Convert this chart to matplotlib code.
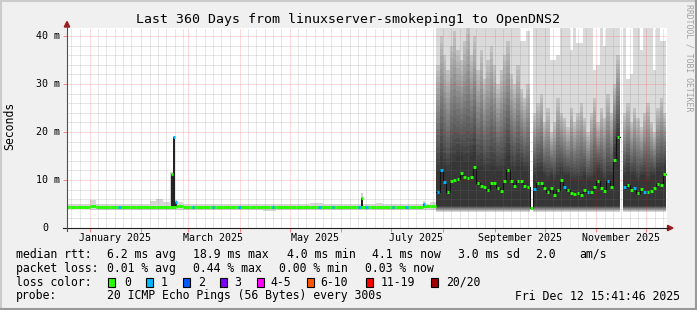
import numpy as np
import matplotlib
matplotlib.use('Agg')
import matplotlib.pyplot as plt
import matplotlib.dates as mdates
import pandas as pd
from matplotlib.patches import Polygon, Rectangle
from matplotlib.lines import Line2D
from matplotlib.colors import to_rgb

W, H = 697, 310
FONT = 'DejaVu Sans Mono'

title = "Last 360 Days from linuxserver-smokeping1 to OpenDNS2"
ylabel = "Seconds"
credit = "RRDTOOL / TOBI OETIKER"

x_start = '2024-12-18 09:00'
x_end = '2025-12-13 09:00'
y_max = 41.67  # ms

y_tick_values = [0, 10, 20, 30, 40]
y_tick_labels = ['0', '10 m', '20 m', '30 m', '40 m']
x_label_dates = ['2025-01-16', '2025-03-16', '2025-05-16', '2025-07-16', '2025-09-16', '2025-11-16']
x_label_texts = ['January 2025', 'March 2025', 'May 2025', 'July 2025', 'September 2025', 'November 2025']

loss_labels = ['0', '1', '2', '3', '4-5', '6-10', '11-19', '20/20']
loss_colors = ['#26ff00', '#00b8ff', '#0059ff', '#7e00ff', '#ff00ff', '#ff5500', '#ff0000', '#a10000']

# ---- quiet period (4-day bins) ----
pre_start = '2024-12-16'
pre_bin_days = 4
pre_median = [4.4, 4.4, 4.4, 4.4, 4.5, 4.4, 4.4, 4.4,
              4.4, 4.4, 4.4, 4.4, 4.4, 4.4, 4.4, 4.4,
              4.4, 4.5, 4.4, 4.4, 4.4, 4.4, 4.4, 4.4,
              4.3, 4.4, 4.4, 4.4, 4.4, 4.4, 4.4, 4.4,
              4.4, 4.4, 4.3, 4.4, 4.4, 4.4, 4.4, 4.4,
              4.4, 4.4, 4.4, 4.4, 4.4, 4.4, 4.4, 4.4,
              4.4, 4.4, 4.4, 4.4, 4.4, 4.4, 4.5, 4.5]
pre_loss = [0, 0, 0, 0, 0, 0, 0, 0,
            1, 0, 0, 0, 0, 0, 0, 0,
            0, 0, 0, 1, 0, 0, 1, 0,
            0, 0, 1, 0, 0, 0, 0, 1,
            0, 0, 0, 0, 0, 0, 1, 0,
            1, 0, 0, 0, 1, 1, 0, 0,
            0, 1, 0, 1, 0, 0, 0, 0]
pre_smoke_lo = [3.9, 3.9, 3.9, 3.9, 3.8, 3.8, 3.8, 3.8,
                3.8, 3.8, 3.8, 3.8, 3.8, 3.8, 3.8, 3.8,
                3.8, 3.8, 3.8, 3.8, 3.8, 3.8, 3.8, 3.8,
                3.8, 3.8, 3.8, 3.8, 3.8, 3.8, 3.6, 3.6,
                3.8, 3.8, 3.8, 3.8, 3.8, 3.8, 3.8, 3.8,
                3.8, 3.8, 3.8, 3.8, 3.8, 3.8, 3.8, 3.8,
                3.8, 3.8, 3.8, 3.8, 3.8, 3.8, 3.8, 3.8]
pre_smoke_hi = [5.0, 4.9, 5.0, 5.1, 5.8, 5.0, 4.9, 5.0,
                5.0, 5.1, 4.9, 5.0, 5.0, 5.6, 6.0, 5.5,
                5.0, 5.5, 5.0, 5.0, 4.9, 5.0, 5.0, 5.1,
                5.0, 4.9, 5.0, 5.0, 5.0, 5.0, 5.0, 4.9,
                5.0, 5.0, 5.0, 5.0, 5.0, 5.2, 5.2, 5.0,
                5.0, 5.0, 5.0, 5.0, 5.0, 5.0, 5.0, 5.3,
                5.0, 5.0, 5.0, 5.0, 5.0, 5.0, 5.1, 5.5]

# ---- isolated spikes ----
spike_times = ['2025-02-19 05:00', '2025-02-20 15:00', '2025-02-21 17:00', '2025-06-13 07:00', '2025-07-20 12:00']
spike_values = [11.3, 18.9, 5.5, 6.3, 5.1]
spike_loss = [0, 1, 1, 0, 1]
spike_smoke = [11.6, 19.2, 5.8, 7.2, 5.6]

# ---- noisy period (2-day bins) ----
smoke_start = '2025-07-28'
smoke_bin_days = 2
nan = float('nan')
smoke_median = [7.6, 12.1, 9.5, 7.4, 9.8, 10.0, 10.3, 11.5, 10.6, 10.4,
                10.7, 12.8, 9.3, 8.8, 8.6, 8.0, 9.3, 9.3, 8.3, 7.8,
                9.7, 12.1, 9.7, 8.8, 9.8, 9.7, 8.8, 8.6, 4.1, 8.1,
                9.3, 9.3, 8.4, 7.4, 8.3, 6.9, 7.9, 10.0, 8.5, 7.9,
                7.2, 7.1, 7.2, 6.8, 7.9, 7.5, 7.6, 8.6, 9.7, 8.3,
                7.8, 9.7, 8.6, 14.2, 18.9, nan, 8.6, 9.0, 7.9, 8.3,
                7.2, 8.2, 7.4, 7.6, 7.8, 8.3, 9.2, 9.0, 11.2]
smoke_loss = [1, 1, 1, 0, 0, 0, 0, 0, 0, 0,
              0, 0, 0, 0, 0, 0, 0, 0, 0, 0,
              0, 0, 0, 0, 0, 0, 0, 0, 0, 1,
              0, 0, 0, 0, 0, 0, 0, 0, 1, 0,
              0, 0, 0, 0, 0, 1, 0, 0, 0, 0,
              0, 1, 0, 0, 0, 0, 1, 0, 0, 1,
              0, 0, 1, 0, 0, 0, 0, 0, 0]
smoke_dark_top = [12, 15, 13, 12, 14, 14, 15, 15, 14, 14,
                  15, 16, 13, 13, 12, 12, 13, 13, 12, 12,
                  13, 15, 13, 12, 13, 13, 12, 12, nan, 11,
                  12, 12, 11, 10, 11, 10, 11, 12, 11, 11,
                  10, 10, 10, 10, 11, 10, 10, 11, 12, 11,
                  10, 11, 11, 16, 19, nan, 11, 12, 11, 11,
                  10, 11, 11, 10, 11, 11, 12, 12, 13]
smoke_mid_top = [34, 40, 36, 33, 38, 41, 37, 35, 39, 42,
                 36, 40, 33, 37, 31, 35, 38, 34, 30, 33,
                 36, 39, 32, 30, 34, 29, 27, 30, nan, 24,
                 26, 28, 22, 25, 20, 22, 27, 24, 23, 21,
                 25, 22, 24, 26, 23, 20, 24, 27, 22, 25,
                 23, 28, 24, 30, 36, nan, 24, 26, 22, 25,
                 23, 21, 24, 26, 22, 20, 25, 27, 24]
smoke_light_top = [42, 42, 42, 42, 42, 42, 42, 42, 42, 42,
                   42, 42, 42, 42, 42, 42, 42, 42, 42, 42,
                   42, 42, 42, 42, 42, 39, 39, 41, nan, 42,
                   42, 42, 42, 42, 35, 35, 36, 42, 42, 42,
                   37, 42, 38.5, 38.5, 42, 42, 42, 33, 34, 42,
                   38, 42, 42, 42, 42, nan, 42, 31, 32, 42,
                   42, 37, 42, 42, 42, 33, 42, 39, 39]
smoke_floor = 3.3
smoke_base = 4.6

# ---- legend text ----
legend_rows = [
    [(16, 'median rtt:'), (107.3, '6.2 ms avg'), (193.3, '18.9 ms max'), (286.7, '4.0 ms min'),
     (372.3, '4.1 ms now'), (458.3, '3.0 ms sd'), (535, '2.0'), (579.3, 'am/s')],
    [(16, 'packet loss:'), (107.3, '0.01 % avg'), (193.3, '0.44 % max'), (279.3, '0.00 % min'),
     (365, '0.03 % now')],
    [(16, 'loss color:')],
    [(16, 'probe:'), (107.3, '20 ICMP Echo Pings (56 Bytes) every 300s')],
]
legend_row_y = [254.3, 268.3, 282.3, 296.0]
loss_box_x = [108.3, 145.7, 182.7, 219.7, 256.7, 307.0, 365.7, 430.7]
loss_text_x = [124.0, 160.7, 197.7, 234.3, 270.7, 320.7, 380.7, 445.7]
timestamp = 'Fri Dec 12 15:41:46 2025'

# ------------------------------------------------------------------
def fx(px):
    return px / W


def fy(py):
    return 1 - py / H


def dnum(s):
    return mdates.date2num(pd.Timestamp(s).to_pydatetime())


fig = plt.figure(figsize=(W / 100, H / 100), dpi=100, facecolor='#f0f0f0')
ax = fig.add_axes([fx(67), fy(228), 600 / W, 200 / H], facecolor='white')
x0, x1 = dnum(x_start), dnum(x_end)
ax.set_xlim(x0, x1)
ax.set_ylim(0, y_max)
for s in ax.spines.values():
    s.set_visible(False)


def grad_bars(x, w, lo, hi, c_lo, c_hi, n, z=1):
    c_lo = np.array(to_rgb(c_lo))
    c_hi = np.array(to_rgb(c_hi))
    for j in range(n):
        t = (j + 0.5) / n
        col = c_lo * (1 - t) + c_hi * t
        b = lo + (hi - lo) * j / n
        h = (hi - lo) / n
        ax.bar(x, h, width=w, bottom=b, align='edge', color=tuple(col),
               linewidth=0, antialiased=False, zorder=z)


# quiet period smoke
pre_edges = mdates.date2num(pd.date_range(pre_start, periods=len(pre_median),
                                          freq=f'{pre_bin_days}D').to_pydatetime())
pre_lo = np.array(pre_smoke_lo)
pre_hi = np.array(pre_smoke_hi)
ax.bar(pre_edges, pre_hi - pre_lo, bottom=pre_lo, width=pre_bin_days, align='edge',
       color='#d6d6d6', linewidth=0, antialiased=False, zorder=1)

# spikes smoke
sp_t = np.array([dnum(t) for t in spike_times])
sp_v = np.array(spike_values)
sp_s = np.array(spike_smoke)
ax.bar(sp_t - 0.8, sp_s - 4.0, bottom=4.0, width=1.6, align='edge', color='#d0d0d0',
       linewidth=0, antialiased=False, zorder=1.1)

# noisy period smoke
sm_edges = mdates.date2num(pd.date_range(smoke_start, periods=len(smoke_median),
                                         freq=f'{smoke_bin_days}D').to_pydatetime())
dk = np.array(smoke_dark_top, float)
md = np.array(smoke_mid_top, float)
lt = np.array(smoke_light_top, float)
ok = ~np.isnan(dk)
xe = sm_edges[ok]
ax.bar(xe, lt[ok] - md[ok], bottom=md[ok], width=smoke_bin_days, align='edge',
       color='#dadada', linewidth=0, antialiased=False, zorder=1)
grad_bars(xe, smoke_bin_days, dk[ok], md[ok], '#383838', '#c6c6c6', 18)
ax.bar(xe, dk[ok] - smoke_base, bottom=smoke_base, width=smoke_bin_days, align='edge',
       color='#363636', linewidth=0, antialiased=False, zorder=1)
grad_bars(xe, smoke_bin_days, np.full(ok.sum(), smoke_floor), np.full(ok.sum(), smoke_base),
          '#e4e4e4', '#383838', 6)

# grid
months = pd.date_range('2024-12-01', '2026-01-01', freq='MS')
major_x, minor_x = [], []
for m in months:
    major_x.append(dnum(m))
    for d in [5, 10, 15, 20, 25]:
        minor_x.append(dnum(m + pd.Timedelta(days=d)))
minor_c = (0.45, 0.45, 0.45, 0.33)
major_c = (1.0, 0.0, 0.0, 0.28)
for v in minor_x:
    if x0 < v < x1:
        ax.axvline(v, color=minor_c, lw=0.72, ls=(0, (1, 1)), zorder=2)
for v in np.arange(2, 42, 2):
    if v % 10:
        ax.axhline(v, color=minor_c, lw=0.72, ls=(0, (1, 1)), zorder=2)
for v in major_x:
    if x0 < v < x1:
        ax.axvline(v, color=major_c, lw=0.72, ls=(0, (1, 1)), zorder=2.1)
for v in y_tick_values[1:]:
    ax.axhline(v, color=major_c, lw=0.72, ls=(0, (1, 1)), zorder=2.1)

# ticks
ax.set_yticks(y_tick_values)
ax.set_yticklabels([])
ax.tick_params(axis='y', length=3, width=0.7, color=(1, 0, 0, 0.45), direction='out')
ax.set_xticks([v for v in major_x if x0 < v < x1])
ax.set_xticklabels([])
ax.tick_params(axis='x', length=3, width=0.7, color=(1, 0, 0, 0.45), direction='out')

# quiet period median
pre_med = np.array(pre_median)
ax.hlines(pre_med, pre_edges, pre_edges + pre_bin_days, colors=loss_colors[0], lw=2.1,
          zorder=4).set_capstyle('butt')
pl = np.array(pre_loss)
for k in np.where(pl > 0)[0]:
    c = pre_edges[k] + pre_bin_days / 2
    ax.hlines(pre_med[k], c - 0.8, c + 0.8, colors=loss_colors[pl[k]], lw=2.1,
              zorder=4.1).set_capstyle('butt')

# spikes
for t, v, l in zip(sp_t, sp_v, spike_loss):
    ax.vlines(t, 4.4, v, colors='#111111', lw=1.3, zorder=3)
    ax.hlines(v, t - 0.6, t + 0.6, colors=loss_colors[l], lw=2.1, zorder=4.2).set_capstyle('butt')

# noisy period median
smed = np.array(smoke_median, float)
xs = np.append(sm_edges, sm_edges[-1] + smoke_bin_days)
ys = np.append(smed, smed[-1])
ax.plot(xs, ys, drawstyle='steps-post', color='#111111', lw=0.8, zorder=3)
sl = np.array(smoke_loss)
good = ~np.isnan(smed)
ax.hlines(smed[good], sm_edges[good] + 0.15, sm_edges[good] + smoke_bin_days - 0.15,
          colors=[loss_colors[i] for i in sl[good]], lw=2.1, zorder=4).set_capstyle('butt')

# axis tick labels
for v, lab in zip(y_tick_values, y_tick_labels):
    if lab == '0':
        ax.annotate(lab, xy=(45, v), xycoords=('figure pixels', 'data'), ha='center', va='center',
                    fontsize=7.2, family=FONT, annotation_clip=False)
    else:
        ax.annotate(lab, xy=(60, v), xycoords=('figure pixels', 'data'), ha='right', va='center',
                    fontsize=7.2, family=FONT, annotation_clip=False)
for d, lab in zip(x_label_dates, x_label_texts):
    ax.annotate(lab, xy=(dnum(d), H - 238), xycoords=('data', 'figure pixels'), ha='center',
                va='center', fontsize=7.2, family=FONT, annotation_clip=False)

# axes lines and arrows
fig.add_artist(Line2D([fx(63), fx(668)], [fy(228), fy(228)], color='#202020', lw=0.8))
fig.add_artist(Line2D([fx(67), fx(67)], [fy(231), fy(25)], color='#505050', lw=0.8))
arrow_c = '#9b1c1c'
fig.add_artist(Polygon([(fx(667.5), fy(225.3)), (fx(667.5), fy(230.7)), (fx(673), fy(228))],
                       closed=True, color=arrow_c, transform=fig.transFigure))
fig.add_artist(Polygon([(fx(64.3), fy(27)), (fx(69.7), fy(27)), (fx(67), fy(21.5))],
                       closed=True, color=arrow_c, transform=fig.transFigure))

# titles
fig.text(fx(348.5), fy(19.5), title, ha='center', va='center', fontsize=9.5, family=FONT)
fig.text(fx(10), fy(126), ylabel, ha='center', va='center', rotation=90, fontsize=8.3, family=FONT)
fig.text(fx(689), fy(4), credit, ha='center', va='top', rotation=270, fontsize=5.9,
         family=FONT, color='#a0a0a0')

# legend
for row, yy in zip(legend_rows, legend_row_y):
    for xx, txt in row:
        fig.text(fx(xx), fy(yy), txt, ha='left', va='center', fontsize=8.3, family=FONT)
for bx, tx, lab, col in zip(loss_box_x, loss_text_x, loss_labels, loss_colors):
    fig.add_artist(Rectangle((fx(bx), fy(286.5)), 7 / W, 9 / H, facecolor=col, edgecolor='black',
                             lw=0.8, transform=fig.transFigure))
    fig.text(fx(tx), fy(legend_row_y[2]), lab, ha='left', va='center', fontsize=8.3, family=FONT)
fig.text(fx(680), fy(legend_row_y[3]), timestamp, ha='right', va='center', fontsize=8.3, family=FONT)

# frame
fig.add_artist(Line2D([0, 1], [fy(0.8), fy(0.8)], color='#cbcbcb', lw=1.5))
fig.add_artist(Line2D([fx(0.8), fx(0.8)], [0, 1], color='#cbcbcb', lw=1.5))
fig.add_artist(Line2D([0, 1], [fy(309), fy(309)], color='#999999', lw=1.5))
fig.add_artist(Line2D([fx(696), fx(696)], [0, 1], color='#999999', lw=1.5))

fig.savefig('out.png', dpi=100, facecolor=fig.get_facecolor())
